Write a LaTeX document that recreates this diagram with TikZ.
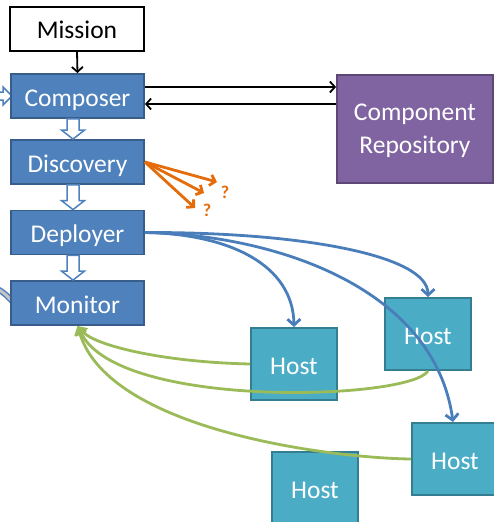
\documentclass[tikz,border=0pt]{standalone}
\usepackage{fontspec}
\setmainfont{Carlito}
\usetikzlibrary{arrows.meta,calc}
\definecolor{blueF}{HTML}{4F81BD}
\definecolor{blueD}{HTML}{385D8A}
\definecolor{blueL}{HTML}{4A7EBB}
\definecolor{purF}{HTML}{8064A2}
\definecolor{purD}{HTML}{5C4776}
\definecolor{tealF}{HTML}{4BACC6}
\definecolor{tealD}{HTML}{357D91}
\definecolor{grnL}{HTML}{9BBB59}
\definecolor{orgL}{HTML}{E46C0A}
\tikzset{
  bigtext/.style={font=\fontsize{25.5}{29}\selectfont},
  onebox/.style={bigtext, inner sep=0pt, text height=20pt, text depth=0pt},
  bluebox/.style={onebox, draw=blueD, fill=blueF, line width=1.8pt, text=white,
    minimum width=133pt, minimum height=44pt},
  whitebox/.style={onebox, draw=black, fill=white, line width=1.8pt, text=black,
    text height=19pt, minimum width=134pt, minimum height=44pt},
  repobox/.style={draw=purD, fill=purF, line width=1.8pt,
    minimum width=156pt, minimum height=108pt, inner sep=0pt},
  repotext/.style={bigtext, text=white, align=center, inner sep=0pt},
  hostbox/.style={onebox, draw=tealD, fill=tealF, line width=2pt, text=white,
    minimum width=86pt, minimum height=72pt},
  hollow/.style={draw=blueF, fill=white, line width=1.5pt, line join=miter},
  blk/.style={draw=black, line width=1.8pt, -{Straight Barb[length=5pt,width=11pt]}},
  orgarrow/.style={draw=orgL, line width=2.8pt, -{Straight Barb[length=5pt,width=11pt]}},
  bluearrow/.style={draw=blueL, line width=2.8pt, -{Straight Barb[length=6pt,width=13pt]}},
  grnarrow/.style={draw=grnL, line width=2.8pt, -{Triangle[length=9pt,width=12pt]}},
  qmark/.style={text=orgL, font=\fontsize{18}{20}\selectfont\bfseries, inner sep=0pt},
}
\newcommand\hollowarrow[2]{%
  \path[hollow] ($(#1.south)+(-10.5,0)$) -- ($(#1.south)+(1.5,0)$)
    -- ($(#2.north)+(1.5,-9)$) -- ($(#2.north)+(7,-9)$) -- ($(#2.north)+(-4.5,0)$)
    -- ($(#2.north)+(-16,-9)$) -- ($(#2.north)+(-10.5,-9)$) -- cycle;}
\begin{document}
\begin{tikzpicture}[x=1pt,y=-1pt]
\useasboundingbox (0,0) rectangle (494,522);
\clip (0,0) rectangle (494,522);

% partial shapes at the left edge
\draw[blueF, line width=6pt] (-3,289) .. controls (4,292) and (8,297) .. (12,301);
\draw[gray!45, line width=3pt] (-3,289) .. controls (4,292) and (8,297) .. (12,301);
\path[hollow] (-4,92) -- (3,92) -- (3,87) -- (12,96) -- (3,105) -- (3,100) -- (-4,100) -- cycle;

% boxes
\node[whitebox] (mission) at (77,29) {Mission};
\node[bluebox] (composer) at (77.5,96) {Composer};
\node[bluebox] (discovery) at (77.5,162) {Discovery};
\node[bluebox] (deployer) at (77.5,232.5) {Deployer};
\node[bluebox] (monitor) at (77.5,303) {Monitor};
\node[repobox] (repo) at (415,129) {};
\node[repotext] (repolabel) at ($(repo.center)+(0,2)$) {Component\\[4pt]Repository};

\node[hostbox] (h1) at (294,364) {Host};
\node[hostbox] (h2) at (428,334) {Host};
\node[hostbox] (h3) at (455,459) {Host};
\node[hostbox] (h4) at (315,488) {Host};

% block arrows
\hollowarrow{composer}{discovery}
\hollowarrow{discovery}{deployer}
\hollowarrow{deployer}{monitor}

% black arrows
\coordinate (ca) at ($(composer.east)+(0,-9)$);
\coordinate (cb) at ($(composer.east)+(0,8)$);
\draw[blk] (ca) -- (ca -| repo.west);
\draw[blk] (cb -| repo.west) -- (cb);
\draw[blk] (mission.south) -- (composer.north);

% orange arrows
\coordinate (o1) at (217,182);
\coordinate (o2) at (204,193);
\coordinate (o3) at (195,208);
\draw[orgarrow] (discovery.east) -- (o1);
\draw[orgarrow] (discovery.east) -- (o2);
\draw[orgarrow] (discovery.east) -- (o3);
\node[qmark] (q1) at (225,192) {?};
\node[qmark] (q2) at (207,210) {?};

% blue deployer arrows
\draw[bluearrow] (deployer.east) .. controls (230,234) and (293,265) .. (h1.north);
\draw[bluearrow] (deployer.east) .. controls (300,232) and (428,255) .. (h2.north);
\draw[bluearrow] (deployer.east) .. controls (280,235) and (435,290) .. ($(h3.north)+(-2,0)$);

% green monitor arrows
\draw[grnarrow] (h1.west) .. controls (160,362) and (95,345) .. (monitor.south);
\draw[grnarrow] (h2.south) .. controls (410,400) and (120,410) .. (monitor.south);
\draw[grnarrow] (h3.west) .. controls (330,458) and (110,430) .. (monitor.south);
\end{tikzpicture}
\end{document}
